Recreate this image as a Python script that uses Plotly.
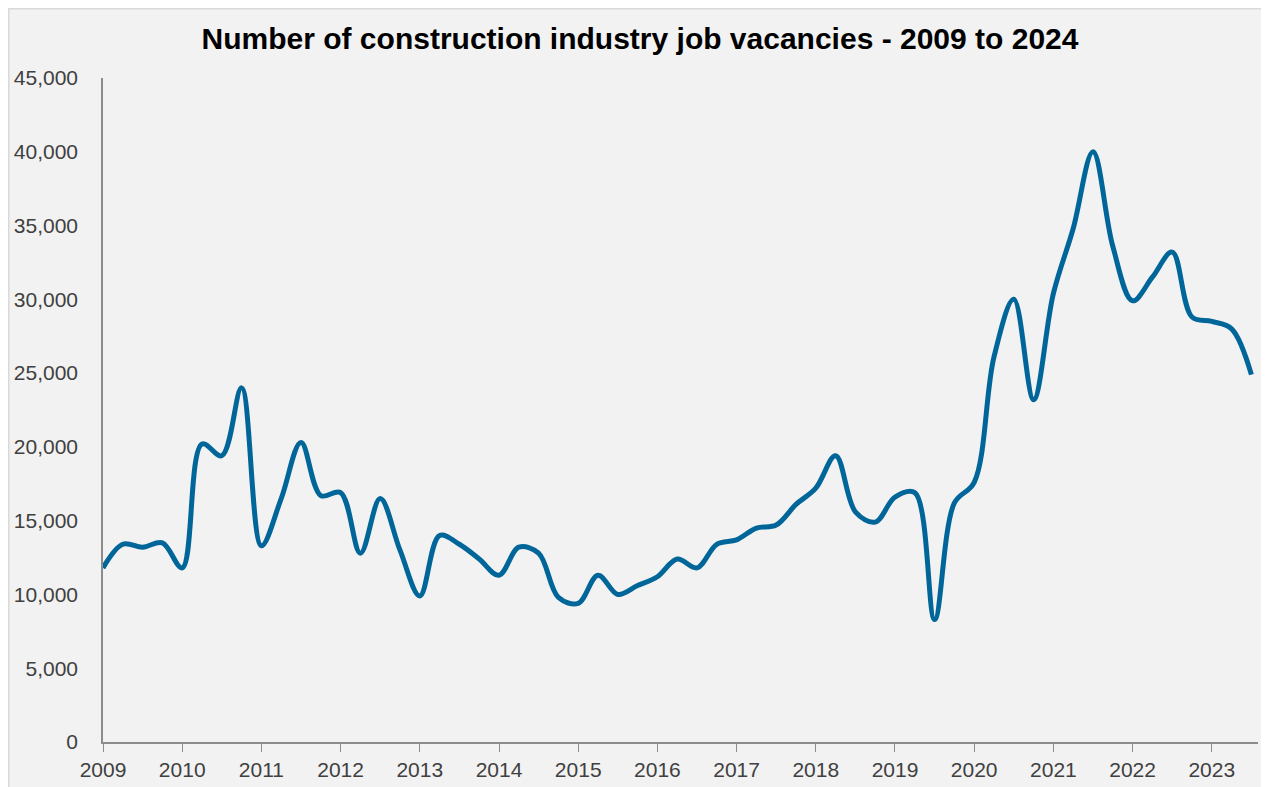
import plotly.graph_objects as go

# ---- data (quarterly, 2009 Q1 .. 2023 Q3) ----
start_year = 2009
quarters = [f"{start_year + i // 4} Q{i % 4 + 1}" for i in range(59)]
vacancies = [
    11800, 13400, 13200, 13500,   # 2009
    11800, 20200, 19400, 24000,   # 2010
    13300, 16500, 20300, 16700,   # 2011
    16900, 12800, 16500, 13000,   # 2012
    9900, 14000, 13400, 12400,    # 2013
    11300, 13200, 12800, 9800,    # 2014
    9400, 11300, 10000, 10600,    # 2015
    11200, 12400, 11800, 13400,   # 2016
    13700, 14500, 14700, 16100,   # 2017
    17200, 19400, 15600, 14900,   # 2018
    16600, 16900, 8300, 16200,    # 2019
    17600, 26100, 30000, 23200,   # 2020
    30400, 34800, 40000, 33600,   # 2021
    29900, 31500, 33200, 28800,   # 2022
    28500, 28000, 24900,          # 2023
]
year_ticks = list(range(2009, 2024))
year_labels = [str(y) for y in year_ticks]
y_ticks = list(range(0, 45001, 5000))

title_text = "Number of construction industry job vacancies - 2009 to 2024"

# numeric x position for each quarter
x_pos = [int(q.split()[0]) + (int(q.split()[1][1]) - 1) / 4 for q in quarters]

fig = go.Figure()
fig.add_trace(go.Scatter(
    x=x_pos, y=vacancies, mode="lines",
    line=dict(color="#00669A", width=5, shape="spline", smoothing=1.0),
    hoverinfo="skip", showlegend=False,
))

# page places the figure 8px in from the top-left corner
OFF = 8
W, H = 1269 - OFF, 787 - OFF
L, T = 103 - OFF, 78 - OFF
R = W - (1258 - OFF)
B = H - (742 - OFF)
pw, ph = W - L - R, H - T - B

def px_to_paper_x(px):
    return (px - L) / pw

def py_to_paper_y(py):
    return (H - B - py) / ph

fig.add_shape(
    type="rect", xref="paper", yref="paper", layer="below",
    x0=px_to_paper_x(0.75), x1=px_to_paper_x(W + 20),
    y0=py_to_paper_y(H + 20), y1=py_to_paper_y(0.75),
    fillcolor="#F2F2F2", line=dict(color="#D9D9D9", width=1.5),
)

tick_font = dict(family="Liberation Sans, Arial, sans-serif", size=21, color="#404040")

fig.update_layout(
    width=W, height=H,
    margin=dict(l=L, r=R, t=T, b=B, pad=0, autoexpand=False),
    paper_bgcolor="white",
    plot_bgcolor="rgba(0,0,0,0)",
    title=dict(
        text=f"<b>{title_text}</b>",
        x=(640 - OFF) / W, xanchor="center", xref="container",
        y=1 - (38 - OFF) / H, yanchor="middle", yref="container",
        font=dict(family="Liberation Sans, Arial, sans-serif", size=30, color="#000000"),
    ),
    xaxis=dict(
        range=[2009, 2009 + (1258 - 102.7) / 79.22],
        tickmode="array", tickvals=year_ticks, ticktext=year_labels,
        showgrid=False, zeroline=False, automargin=False,
        showline=True, linecolor="#8C8C8C", linewidth=1.5,
        ticks="outside", ticklen=8, tickcolor="#8C8C8C", tickwidth=1,
        tickfont=tick_font, ticklabelstandoff=0,
    ),
    yaxis=dict(
        range=[0, 45000],
        tickmode="array", tickvals=y_ticks, tickformat=",",
        showgrid=False, zeroline=False, automargin=False,
        showline=True, linecolor="#8C8C8C", linewidth=1.5,
        ticks="", tickfont=tick_font, ticklabelstandoff=19,
    ),
)

fig.write_html("out.html")
